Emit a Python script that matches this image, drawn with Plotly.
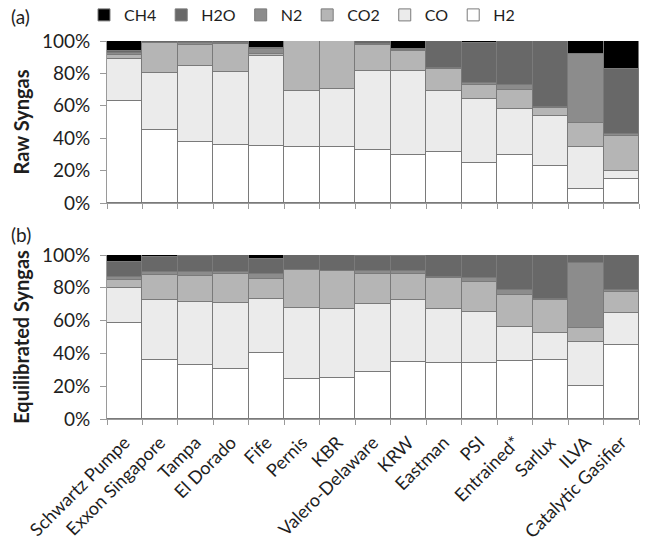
import plotly.graph_objects as go

categories = ["Schwartz Pumpe", "Exxon Singapore", "Tampa", "El Dorado", "Fife", "Pernis", "KBR",
              "Valero-Delaware", "KRW", "Eastman", "PSI", "Entrained*", "Sarlux", "ILVA",
              "Catalytic Gasifier"]

# Raw syngas composition (%)
raw_H2  = [62.8, 45.0, 37.7, 35.6, 35.2, 34.4, 34.8, 32.5, 29.8, 31.5, 24.9, 29.4, 22.8, 8.8, 15.0]
raw_CO  = [26.3, 35.4, 46.9, 45.3, 55.5, 34.9, 35.4, 49.2, 51.9, 37.8, 39.5, 28.8, 30.7, 26.0, 4.9]
raw_CO2 = [2.0, 18.2, 12.7, 17.2, 1.5, 30.7, 29.8, 15.8, 12.3, 13.6, 8.6, 11.6, 5.2, 14.4, 21.5]
raw_N2  = [1.2, 0.4, 1.5, 0.4, 3.0, 0.0, 0.0, 0.5, 0.3, 0.3, 1.2, 3.0, 0.5, 42.8, 1.0]
raw_H2O = [1.7, 1.0, 1.2, 1.5, 0.5, 0.0, 0.0, 2.0, 1.0, 16.8, 24.8, 27.2, 40.8, 0.0, 40.1]
raw_CH4 = [6.0, 0.0, 0.0, 0.0, 4.3, 0.0, 0.0, 0.0, 4.7, 0.0, 1.0, 0.0, 0.0, 8.0, 17.5]

# Equilibrated syngas composition (%)
eq_H2  = [58.7, 36.0, 32.9, 30.3, 40.4, 24.6, 25.0, 28.9, 34.8, 34.3, 34.3, 35.4, 36.0, 20.3, 45.1]
eq_CO  = [21.0, 36.6, 38.2, 40.2, 33.0, 42.9, 42.1, 41.2, 37.8, 32.6, 31.1, 20.5, 16.2, 26.7, 19.3]
eq_CO2 = [5.0, 15.2, 16.3, 17.7, 12.0, 23.4, 23.3, 18.1, 15.8, 19.3, 17.9, 20.0, 20.3, 8.5, 13.2]
eq_N2  = [2.0, 1.6, 2.0, 1.6, 3.0, 0.0, 0.0, 2.2, 1.8, 0.5, 2.5, 2.8, 0.5, 39.8, 1.0]
eq_H2O = [8.8, 9.6, 10.1, 9.9, 9.2, 8.8, 9.6, 9.1, 9.3, 13.3, 14.2, 21.3, 27.0, 4.7, 21.1]
eq_CH4 = [4.5, 1.0, 0.5, 0.3, 2.4, 0.3, 0.0, 0.5, 0.5, 0.0, 0.0, 0.0, 0.0, 0.0, 0.3]

y_tickvals = [0, 20, 40, 60, 80, 100]
y_ticktext = ["0%", "20%", "40%", "60%", "80%", "100%"]

species = ["H2", "CO", "CO2", "N2", "H2O", "CH4"]
colors = {"H2": "#ffffff", "CO": "#ebebeb", "CO2": "#b5b5b5", "N2": "#8c8c8c",
          "H2O": "#686868", "CH4": "#000000"}
raw = {"H2": raw_H2, "CO": raw_CO, "CO2": raw_CO2, "N2": raw_N2, "H2O": raw_H2O, "CH4": raw_CH4}
eq = {"H2": eq_H2, "CO": eq_CO, "CO2": eq_CO2, "N2": eq_N2, "H2O": eq_H2O, "CH4": eq_CH4}

FONT = "Lato"
TXT = "#1e1e1e"
fig = go.Figure()
for s in species:
    fig.add_trace(go.Bar(x=categories, y=raw[s], name=s, legendgroup=s,
                         marker=dict(color=colors[s], line=dict(color="#7a7a7a", width=1)),
                         xaxis="x", yaxis="y"))
for s in species:
    fig.add_trace(go.Bar(x=categories, y=eq[s], name=s, legendgroup=s, showlegend=False,
                         marker=dict(color=colors[s], line=dict(color="#7a7a7a", width=1)),
                         xaxis="x2", yaxis="y2"))

W, H = 649, 545
L, R, T, B = 107, 10, 32, 0
PW = W - L - R
PH = H - T - B
def dom(top_px, bot_px):
    return [1 - (bot_px - T) / PH, 1 - (top_px - T) / PH]
def px_x(x):
    return (x - L) / PW
def px_y(y):
    return 1 - (y - T) / PH

axis_common = dict(showgrid=False, zeroline=False, showline=True, linecolor="#9a9a9a",
                   linewidth=1, automargin=False)
fig.update_layout(
    width=W, height=H,
    margin=dict(l=L, r=R, t=T, b=B, autoexpand=False),
    paper_bgcolor="white", plot_bgcolor="white",
    barmode="stack", bargap=0,
    font=dict(family=FONT, size=16, color=TXT),
    legend=dict(orientation="h", traceorder="reversed", x=px_x(84), y=1.0, xanchor="left",
                yanchor="bottom", font=dict(size=16, color=TXT), itemwidth=30,
                bgcolor="rgba(0,0,0,0)"),
    xaxis=dict(domain=[0, 1], anchor="y", showticklabels=False, tickson="boundaries",
               ticks="outside", ticklen=5, tickcolor="#9a9a9a", **axis_common),
    yaxis=dict(domain=dom(41, 203), range=[0, 100], tickvals=y_tickvals,
               ticktext=y_ticktext, ticks="outside", ticklabelstandoff=6,
               ticklen=6, tickcolor="#9a9a9a", tickfont=dict(size=19),
               title=dict(text="<b>Raw Syngas</b>", font=dict(size=20), standoff=6),
               **axis_common),
    xaxis2=dict(domain=[0, 1], anchor="y2", tickangle=-45, tickson="boundaries",
                ticks="outside", ticklen=5, tickcolor="#9a9a9a", tickfont=dict(size=18),
                ticklabelstandoff=5, **axis_common),
    yaxis2=dict(domain=dom(255, 419), range=[0, 100], tickvals=y_tickvals,
                ticktext=y_ticktext, ticks="outside", ticklabelstandoff=6,
                ticklen=6, tickcolor="#9a9a9a", tickfont=dict(size=19),
                title=dict(text="<b>Equilibrated Syngas</b>", font=dict(size=20), standoff=6),
                **axis_common),
    annotations=[
        dict(text="(a)", x=px_x(9), y=px_y(16), xref="paper", yref="paper",
             xanchor="left", yanchor="middle", showarrow=False, font=dict(size=19, color=TXT)),
        dict(text="(b)", x=px_x(9), y=px_y(235), xref="paper", yref="paper",
             xanchor="left", yanchor="middle", showarrow=False, font=dict(size=19, color=TXT)),
    ],
)
fig.write_html("out.html")
